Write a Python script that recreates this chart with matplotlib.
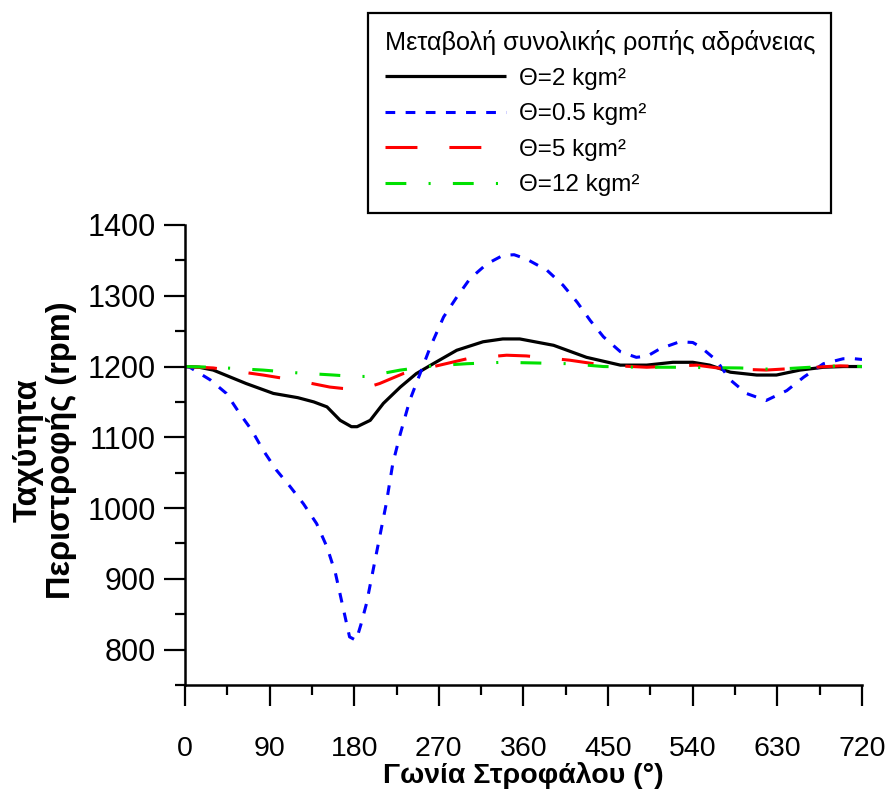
import matplotlib
matplotlib.use("Agg")
import matplotlib.pyplot as plt
from matplotlib.ticker import MultipleLocator, FixedLocator
from matplotlib import font_manager

# ---------------- data ----------------
deg_black = [0, 15, 30, 65, 94, 120, 137, 151, 165, 177, 183, 197, 211, 229, 246, 264,
             289, 317, 338, 356, 392, 427, 463, 491, 519, 540, 558, 580, 608, 629, 654,
             679, 700, 720]
speed_black = [1200, 1199, 1195, 1176, 1162, 1156, 1150, 1143, 1124, 1115, 1115, 1124,
               1148, 1171, 1190, 1204, 1223, 1235, 1239, 1239, 1230, 1213, 1202, 1202,
               1206, 1206, 1202, 1192, 1188, 1188, 1195, 1199, 1200, 1200]

deg_blue = [0, 5, 27, 44, 58, 71, 83, 97, 112, 126, 140, 151, 160, 168, 175, 182, 187,
            193, 200, 207, 214, 221, 229, 239, 250, 261, 275, 289, 303, 321, 338, 350,
            363, 385, 402, 417, 431, 445, 463, 480, 492, 505, 526, 540, 548, 565, 580,
            597, 618, 640, 658, 679, 700, 712, 720]
speed_blue = [1200, 1199, 1181, 1162, 1134, 1110, 1082, 1054, 1030, 1006, 978, 945, 908,
              860, 818, 813, 835, 865, 912, 959, 1006, 1063, 1105, 1152, 1190, 1228, 1270,
              1298, 1324, 1345, 1357, 1358, 1352, 1336, 1315, 1291, 1265, 1242, 1221, 1213,
              1215, 1225, 1235, 1234, 1228, 1209, 1181, 1162, 1152, 1166, 1185, 1204, 1211,
              1211, 1210]

deg_red = [0, 30, 83, 120, 154, 168, 180, 195, 207, 232, 271, 300, 342, 363, 409, 445,
           491, 544, 572, 618, 643, 697, 720]
speed_red = [1200, 1198, 1188, 1180, 1171, 1169, 1168, 1171, 1176, 1190, 1202, 1211, 1216,
             1215, 1209, 1202, 1199, 1202, 1197, 1195, 1197, 1201, 1200]

deg_green = [0, 30, 83, 120, 158, 180, 193, 229, 264, 300, 338, 374, 409, 445, 484, 519,
             590, 626, 665, 697, 720]
speed_green = [1200, 1199, 1195, 1191, 1188, 1186, 1186, 1195, 1201, 1204, 1206, 1205,
               1204, 1200, 1199, 1199, 1198, 1196, 1199, 1201, 1200]

labels = ["\u0398=2 kgm\u00b2", "\u0398=0.5 kgm\u00b2", "\u0398=5 kgm\u00b2", "\u0398=12 kgm\u00b2"]
legend_title = "Μεταβολή συνολικής ροπής αδράνειας"
x_label = "Γωνία Στροφάλου (°)"
y_label = "Ταχύτητα\nΠεριστροφής (rpm)"
x_ticks = [0, 90, 180, 270, 360, 450, 540, 630, 720]
y_ticks = [800, 900, 1000, 1100, 1200, 1300, 1400]

# ---------------- style ----------------
names = {f.name for f in font_manager.fontManager.ttflist}
base = "Liberation Sans" if "Liberation Sans" in names else "DejaVu Sans"
narrow = "Liberation Sans Narrow" if "Liberation Sans Narrow" in names else base
plt.rcParams["font.family"] = [base, "DejaVu Sans"]
plt.rcParams["lines.scale_dashes"] = False

fig = plt.figure(figsize=(8.87, 7.91), dpi=100)
ax = fig.add_axes([185/887, 1-685/791, 677/887, 460/791])

ax.plot(deg_black, speed_black, color="black", lw=2.3, solid_capstyle="butt", label=labels[0])
ax.plot(deg_blue, speed_blue, color="#0000ff", lw=2.2, dashes=(7, 7.5), label=labels[1])
ax.plot(deg_red, speed_red, color="#ff0000", lw=2.2, dashes=(23, 23), label=labels[2])
ax.plot(deg_green, speed_green, color="#00e000", lw=2.2, dashes=(15, 16, 1.5, 16), label=labels[3])

ax.set_xlim(0, 720)
ax.set_ylim(750, 1400)
ax.xaxis.set_major_locator(FixedLocator(x_ticks))
ax.xaxis.set_minor_locator(MultipleLocator(45))
ax.yaxis.set_major_locator(FixedLocator(y_ticks))
ax.yaxis.set_minor_locator(FixedLocator([750, 850, 950, 1050, 1150, 1250, 1350]))

for s in ["top", "right"]:
    ax.spines[s].set_visible(False)
for s in ["left", "bottom"]:
    ax.spines[s].set_linewidth(1.8)

ax.tick_params(which="major", length=15, width=1.6, direction="out")
ax.tick_params(which="minor", length=7.5, width=1.6, direction="out")
ax.tick_params(axis="x", which="major", pad=22)
ax.tick_params(axis="y", which="major", pad=6)
for t in ax.get_yticklabels():
    t.set_fontfamily([narrow, base])
    t.set_fontsize(22)
for t in ax.get_xticklabels():
    t.set_fontfamily([narrow, base])
    t.set_fontsize(20.5)

ax.set_xlabel(x_label, fontsize=20.5, fontweight="bold", family=[narrow, base], labelpad=0)
fig.text(45/887, 1-450/791, y_label, rotation=90, fontsize=23.5, fontweight="bold",
         ha="center", va="center", multialignment="center", linespacing=1.08,
         family=[base])

leg = fig.legend(loc="upper left", bbox_to_anchor=(368/887, 1-13/791), borderaxespad=0,
                 title=legend_title, title_fontsize=18.2, fontsize=17.5,
                 frameon=True, fancybox=False, edgecolor="black", framealpha=1,
                 handlelength=5.0, handletextpad=0.55, labelspacing=0.55,
                 borderpad=0.68)
leg.get_frame().set_linewidth(1.6)
leg._legend_box.align = "left"

fig.savefig("out.png", dpi=100)
